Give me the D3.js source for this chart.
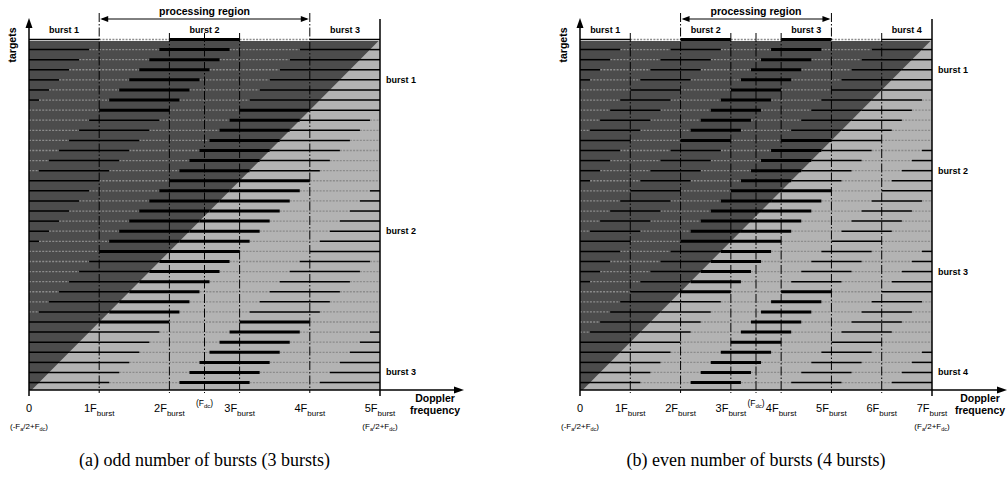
<!DOCTYPE html>
<html>
<head>
<meta charset="utf-8">
<script src="https://cdn.jsdelivr.net/npm/d3@7"></script>
<style>
    body { margin: 0; background: #fff; }
    svg text { font-family: Arial, "Liberation Sans", sans-serif; fill: #000; }
    .caption { font-family: "Times New Roman", "Liberation Serif", serif !important; }
</style>
</head>
<body>
<div id="chart"></div>
<script>

// ---- panel (a): odd number of bursts ----
const burstNamesA = ["burst 1", "burst 2", "burst 3"];
const burstStartsA = [0, 2, 4];            // start of each burst, in F_burst
const tickValuesA = [0, 1, 2, 3, 4, 5];
const tickLabelsA = ["0", "1F", "2F", "3F", "4F", "5F"];
const procRegionA = [1, 4];                // processing region, in F_burst
const fdcA = 2.5;
const targetsPerFA = 7;                    // target rows per F_burst of doppler shift
const sideLabelRowsA = [4, 19, 33];
const captionA = "(a) odd number of bursts (3 bursts)";

// ---- panel (b): even number of bursts ----
const burstNamesB = ["burst 1", "burst 2", "burst 3", "burst 4"];
const burstStartsB = [0, 2, 4, 6];
const tickValuesB = [0, 1, 2, 3, 4, 5, 6, 7];
const tickLabelsB = ["0", "1F", "2F", "3F", "4F", "5F", "6F", "7F"];
const procRegionB = [2, 5];
const fdcB = 3.5;
const targetsPerFB = 5;
const sideLabelRowsB = [3, 13, 23, 33];
const captionB = "(b) even number of bursts (4 bursts)";

const DARK = "#4c4c4c", LIGHT = "#b3b3b3";

let svg = d3.select("#chart").append("svg")
    .attr("width", 1008)
    .attr("height", 484);

let defs = svg.append("defs");

class BurstPanel {

    constructor(_id, _cfg) {
        this.id = _id;
        this.cfg = _cfg;
        this.initVis();
    }

    initVis() {
        let vis = this;
        let c = vis.cfg;
        vis.nF = c.ticks[c.ticks.length - 1];
        vis.nRows = vis.nF * c.perF;

        vis.top = 39.5;
        vis.plotTop = 41;
        vis.axisY = 390;
        vis.rowStep = 10.09;

        vis.x = d3.scaleLinear().domain([0, vis.nF]).range([c.left, c.right]);
        vis.y = d3.scaleLinear().domain([0, vis.nRows])
            .range([vis.top, vis.top + vis.nRows * vis.rowStep]);

        vis.g = svg.append("g").attr("class", "panel-" + vis.id);

        // clip for the grey area
        defs.append("clipPath")
            .attr("id", "clip-" + vis.id)
            .append("rect")
            .attr("x", vis.x(0))
            .attr("y", vis.plotTop)
            .attr("width", vis.x(vis.nF) - vis.x(0))
            .attr("height", vis.axisY - vis.plotTop);

        vis.wrangleData();
    }

    // split every target row into burst / gap segments (doppler wraps at nF)
    wrangleData() {
        let vis = this;
        let c = vis.cfg;
        vis.segments = [];

        for (let k = 0; k < vis.nRows; k++) {
            let shift = k / c.perF;
            let covered = [];
            c.starts.forEach(s => {
                let a = ((s - shift) % vis.nF + vis.nF) % vis.nF;
                a = Math.round(a * 1e6) / 1e6;
                if (a >= vis.nF) a -= vis.nF;
                let bold = a >= c.proc[0] - 1e-6 && a + 1 <= c.proc[1] + 1e-6;
                let type = bold ? "bold" : "thin";
                if (a + 1 > vis.nF) {
                    covered.push({a: a, b: vis.nF, type: type});
                    covered.push({a: 0, b: a + 1 - vis.nF, type: type});
                } else {
                    covered.push({a: a, b: a + 1, type: type});
                }
            });
            covered.sort((p, q) => p.a - q.a);
            let pos = 0;
            covered.forEach(seg => {
                if (seg.a > pos + 1e-6) vis.segments.push({row: k, a: pos, b: seg.a, type: "gap"});
                vis.segments.push({row: k, a: seg.a, b: seg.b, type: seg.type});
                pos = Math.max(pos, seg.b);
            });
            if (pos < vis.nF - 1e-6) vis.segments.push({row: k, a: pos, b: vis.nF, type: "gap"});
        }

        vis.updateVis();
    }

    updateVis() {
        let vis = this;
        let c = vis.cfg;
        let x = vis.x, y = vis.y, g = vis.g;
        let x0 = x(0), x1 = x(vis.nF);

        // grey area, dark triangle above the wrap diagonal
        let area = g.append("g").attr("clip-path", "url(#clip-" + vis.id + ")");
        area.append("rect")
            .attr("x", x0).attr("y", vis.plotTop)
            .attr("width", x1 - x0).attr("height", vis.axisY - vis.plotTop)
            .attr("fill", LIGHT);
        area.append("path")
            .attr("d", d3.line()([[x(0), y(0) - 2], [x(vis.nF), y(0) - 2], [x(vis.nF), y(0)], [x(0), y(vis.nRows)]]))
            .attr("fill", DARK);

        // target rows
        let order = {gap: 0, thin: 1, bold: 2};
        let segs = vis.segments.slice().sort((p, q) => order[p.type] - order[q.type]);
        g.append("g").selectAll("line")
            .data(segs)
            .enter().append("line")
            .attr("x1", d => x(d.a))
            .attr("x2", d => x(d.b))
            .attr("y1", d => y(d.row))
            .attr("y2", d => y(d.row))
            .attr("stroke", d => d.type === "gap" ? "#8c8c8c" : "#000")
            .attr("stroke-width", d => d.type === "bold" ? 3 : (d.type === "thin" ? 1.5 : 1.3))
            .attr("stroke-dasharray", d => d.type === "gap" ? "2,1.3" : null);

        // dash-dot frequency lines
        let vlines = c.ticks.filter(t => t > 0 && t < vis.nF).concat([c.fdc]);
        g.append("g").selectAll("line")
            .data(vlines)
            .enter().append("line")
            .attr("x1", d => x(d)).attr("x2", d => x(d))
            .attr("y1", d => (d === c.proc[0] || d === c.proc[1]) ? 13 : 33)
            .attr("y2", vis.axisY + 3)
            .attr("stroke", "#000")
            .attr("stroke-width", 1)
            .attr("stroke-dasharray", "9,2,1.5,2");

        // right border
        g.append("line")
            .attr("x1", x1).attr("x2", x1)
            .attr("y1", 19).attr("y2", vis.axisY + 6)
            .attr("stroke", "#000").attr("stroke-width", 1.5);

        // axes with arrows
        g.append("line")
            .attr("x1", x0).attr("x2", x0)
            .attr("y1", vis.axisY + 6).attr("y2", 24)
            .attr("stroke", "#000").attr("stroke-width", 1.5);
        g.append("path")
            .attr("d", d3.line()([[x0 - 3.5, 28], [x0, 18], [x0 + 3.5, 28]]))
            .attr("fill", "#000");
        g.append("line")
            .attr("x1", x0).attr("x2", c.arrowEnd - 5)
            .attr("y1", vis.axisY).attr("y2", vis.axisY)
            .attr("stroke", "#000").attr("stroke-width", 1.5);
        g.append("path")
            .attr("d", d3.line()([[c.arrowEnd - 10, vis.axisY - 3.5], [c.arrowEnd, vis.axisY], [c.arrowEnd - 10, vis.axisY + 3.5]]))
            .attr("fill", "#000");

        // processing region arrow
        let pa = x(c.proc[0]), pb = x(c.proc[1]);
        g.append("line")
            .attr("x1", pa + 3).attr("x2", pb - 3)
            .attr("y1", 19).attr("y2", 19)
            .attr("stroke", "#000").attr("stroke-width", 1);
        g.append("path")
            .attr("d", d3.line()([[pa + 9, 16], [pa + 1, 19], [pa + 9, 22]]))
            .attr("fill", "#000");
        g.append("path")
            .attr("d", d3.line()([[pb - 9, 16], [pb - 1, 19], [pb - 9, 22]]))
            .attr("fill", "#000");
        g.append("text")
            .attr("x", (pa + pb) / 2).attr("y", 15)
            .attr("text-anchor", "middle")
            .attr("font-size", 10.5).attr("font-weight", "bold")
            .text("processing region");

        // burst names on the top strip
        g.append("g").selectAll("text")
            .data(c.starts)
            .enter().append("text")
            .attr("x", d => x(d + 0.5))
            .attr("y", 32.5)
            .attr("text-anchor", "middle")
            .attr("font-size", 9).attr("font-weight", "bold")
            .text((d, i) => c.names[i]);

        // burst names on the right
        g.append("g").selectAll("text")
            .data(c.sideRows)
            .enter().append("text")
            .attr("x", x1 + 6)
            .attr("y", d => y(d) + 3)
            .attr("font-size", 9).attr("font-weight", "bold")
            .text((d, i) => c.names[i]);

        // y label
        g.append("text")
            .attr("transform", "translate(" + (x0 - 13) + ",45) rotate(-90)")
            .attr("text-anchor", "middle")
            .attr("font-size", 10.5).attr("font-weight", "bold")
            .text("targets");

        // x label
        let xl = g.append("text")
            .attr("text-anchor", "middle")
            .attr("font-size", 10.5).attr("font-weight", "bold");
        xl.append("tspan").attr("x", c.xLabelX).attr("y", 402).text("Doppler");
        xl.append("tspan").attr("x", c.xLabelX).attr("y", 414).text("frequency");

        // tick labels
        let tl = g.append("g").selectAll("text")
            .data(c.ticks)
            .enter().append("text")
            .attr("x", d => x(d))
            .attr("y", 412)
            .attr("text-anchor", "middle")
            .attr("font-size", 11);
        tl.append("tspan").text((d, i) => c.tickLabels[i]);
        tl.filter(d => d > 0).append("tspan")
            .attr("font-size", 8).attr("dy", 3.5)
            .text("burst");

        // F_dc label
        let fl = g.append("text")
            .attr("x", x(c.fdc)).attr("y", 406)
            .attr("text-anchor", "middle")
            .attr("font-size", 8.5);
        fl.append("tspan").text("(F");
        fl.append("tspan").attr("font-size", 6).attr("dy", 2).text("dc");
        fl.append("tspan").attr("dy", -2).text(")");

        // band edges
        vis.bandLabel(x0, "(-F", "/2+F");
        vis.bandLabel(x1, "(F", "/2+F");

        // caption
        g.append("text")
            .attr("class", "caption")
            .attr("x", (x0 + x1) / 2).attr("y", 466)
            .attr("text-anchor", "middle")
            .attr("font-size", 18)
            .text(c.caption);
    }

    bandLabel(px, pre, mid) {
        let t = this.g.append("text")
            .attr("x", px).attr("y", 429)
            .attr("text-anchor", "middle")
            .attr("font-size", 8);
        t.append("tspan").text(pre);
        t.append("tspan").attr("font-size", 5.5).attr("dy", 1.5).text("a");
        t.append("tspan").attr("dy", -1.5).text(mid);
        t.append("tspan").attr("font-size", 5.5).attr("dy", 1.5).text("dc");
        t.append("tspan").attr("dy", -1.5).text(")");
    }
}

new BurstPanel("a", {
    names: burstNamesA, starts: burstStartsA, ticks: tickValuesA, tickLabels: tickLabelsA,
    proc: procRegionA, fdc: fdcA, perF: targetsPerFA, sideRows: sideLabelRowsA, caption: captionA,
    left: 29, right: 380, arrowEnd: 464, xLabelX: 435
});

new BurstPanel("b", {
    names: burstNamesB, starts: burstStartsB, ticks: tickValuesB, tickLabels: tickLabelsB,
    proc: procRegionB, fdc: fdcB, perF: targetsPerFB, sideRows: sideLabelRowsB, caption: captionB,
    left: 580, right: 932, arrowEnd: 1007, xLabelX: 980
});

</script>
</body>
</html>
